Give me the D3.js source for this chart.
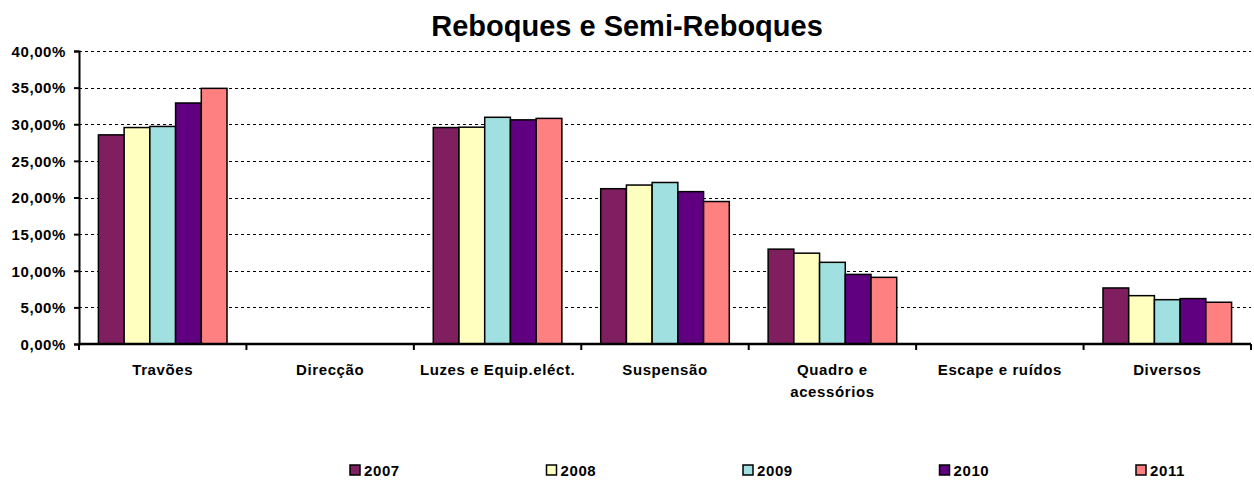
<!DOCTYPE html>
<html>
<head>
<meta charset="utf-8">
<script src="https://cdn.jsdelivr.net/npm/d3@7"></script>
<style>
  body { margin: 0; background: #fff; }
  svg text { font-family: "Liberation Sans", Arial, sans-serif; font-weight: bold; fill: #000; }
</style>
</head>
<body>
<svg id="chart"></svg>
<script>
const categories = ['Travões', 'Direcção', 'Luzes e Equip.eléct.', 'Suspensão', 'Quadro e acessórios', 'Escape e ruídos', 'Diversos'];
const years = ['2007', '2008', '2009', '2010', '2011'];
const colors = ['#7f1f5f', '#ffffc0', '#a0e0e0', '#600080', '#ff8080'];

// percentages per year, one value per category (null = no bar)
const v2007 = [0.2855, null, 0.2955, 0.2120, 0.1295, null, 0.0765];
const v2008 = [0.2955, null, 0.2960, 0.2170, 0.1240, null, 0.0660];
const v2009 = [0.2970, null, 0.3095, 0.2205, 0.1115, null, 0.0605];
const v2010 = [0.3290, null, 0.3060, 0.2080, 0.0950, null, 0.0620];
const v2011 = [0.3490, null, 0.3080, 0.1945, 0.0910, null, 0.0570];
const series = [v2007, v2008, v2009, v2010, v2011];

const yTicks = [0, 0.05, 0.10, 0.15, 0.20, 0.25, 0.30, 0.35, 0.40];

const width = 1254, height = 480;
const margin = {top: 51, right: 3, bottom: 136, left: 79};

const svg = d3.select('#chart')
    .attr('width', width)
    .attr('height', height);

const pt = d3.formatLocale({decimal: ',', thousands: '.', grouping: [3], currency: ['', '€'], percent: '%'});
const fmt = pt.format('.2%');

const x0 = d3.scaleBand()
    .domain(categories)
    .range([margin.left, width - margin.right])
    .paddingInner(0)
    .paddingOuter(0);

const x1 = d3.scaleBand()
    .domain(years)
    .range([0, x0.bandwidth()])
    .paddingInner(0)
    .paddingOuter(0.755);

const y = d3.scaleLinear()
    .domain([0, 0.4])
    .range([height - margin.bottom, margin.top]);

// title
svg.append('text')
    .attr('x', 627)
    .attr('y', 36)
    .attr('text-anchor', 'middle')
    .style('font-size', '29px')
    .text('Reboques e Semi-Reboques');

// gridlines
svg.append('g')
    .selectAll('line')
    .data(yTicks.slice(1))
    .enter()
    .append('line')
    .attr('x1', margin.left)
    .attr('x2', width - margin.right)
    .attr('y1', d => Math.round(y(d)) + 0.5)
    .attr('y2', d => Math.round(y(d)) + 0.5)
    .attr('stroke', '#000')
    .attr('stroke-width', 1)
    .attr('stroke-dasharray', '3,3');

// bars
const groups = svg.append('g')
    .selectAll('g')
    .data(years)
    .enter()
    .append('g')
    .attr('fill', (d, i) => colors[i]);

groups.selectAll('rect')
    .data((yr, i) => categories.map((c, j) => ({cat: c, year: yr, value: series[i][j]})).filter(d => d.value != null))
    .enter()
    .append('rect')
    .attr('x', d => x0(d.cat) + x1(d.year))
    .attr('y', d => y(d.value))
    .attr('width', x1.bandwidth())
    .attr('height', d => y(0) - y(d.value))
    .attr('stroke', '#000')
    .attr('stroke-width', 1.5);

// y axis
const yAxis = svg.append('g')
    .attr('transform', `translate(${margin.left},0)`)
    .call(d3.axisLeft(y).tickValues(yTicks).tickFormat(fmt).tickSize(5).tickPadding(8));
yAxis.select('.domain').attr('stroke-width', 2);
yAxis.selectAll('.tick line').attr('stroke-width', 2);
yAxis.selectAll('.tick text')
    .style('font-size', '15px')
    .style('letter-spacing', '0.6px')
    .attr('dy', '0.35em');

// x axis
const xAxis = svg.append('g')
    .attr('transform', `translate(0,${y(0)})`);
xAxis.append('line')
    .attr('x1', margin.left)
    .attr('x2', width - margin.right)
    .attr('stroke', '#000')
    .attr('stroke-width', 2.5);
xAxis.selectAll('.cattick')
    .data(categories.map(c => x0(c)).concat([x0.range()[1]]))
    .enter()
    .append('line')
    .attr('class', 'cattick')
    .attr('x1', d => d)
    .attr('x2', d => d)
    .attr('y1', 0)
    .attr('y2', 6)
    .attr('stroke', '#000')
    .attr('stroke-width', 2);

const wrap = {'Quadro e acessórios': ['Quadro e', 'acessórios']};
xAxis.selectAll('.catlabel')
    .data(categories)
    .enter()
    .append('text')
    .attr('class', 'catlabel')
    .attr('text-anchor', 'middle')
    .attr('x', d => x0(d) + x0.bandwidth() / 2)
    .attr('y', 31)
    .style('font-size', '15px')
    .style('letter-spacing', '0.6px')
    .each(function (d) {
        const lines = wrap[d] || [d];
        d3.select(this).selectAll('tspan')
            .data(lines)
            .enter()
            .append('tspan')
            .attr('x', x0(d) + x0.bandwidth() / 2)
            .attr('dy', (l, k) => k === 0 ? 0 : 22)
            .text(l => l);
    });

// legend
const legend = svg.append('g')
    .selectAll('g')
    .data(years)
    .enter()
    .append('g')
    .attr('transform', (d, i) => `translate(${350 + i * 196.5},465)`);

legend.append('rect')
    .attr('width', 10)
    .attr('height', 10)
    .attr('fill', (d, i) => colors[i])
    .attr('stroke', '#000')
    .attr('stroke-width', 1.5);

legend.append('text')
    .attr('x', 14)
    .attr('y', 11)
    .style('font-size', '15px')
    .style('letter-spacing', '0.6px')
    .text(d => d);
</script>
</body>
</html>
